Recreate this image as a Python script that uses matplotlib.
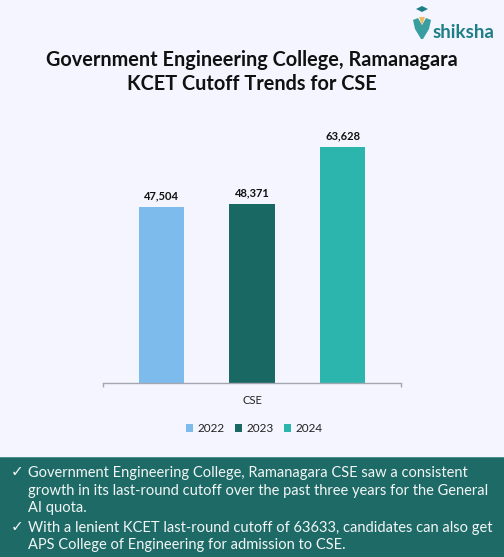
import matplotlib
matplotlib.use("Agg")
import matplotlib.pyplot as plt
from matplotlib.patches import Polygon, Rectangle

years = ["2022", "2023", "2024"]
cutoffs = [47504, 48371, 63628]
bar_colors = ["#7CBBEC", "#196864", "#2CB5AC"]
bar_offsets = [-1, 0, 1]
category = "CSE"
title_lines = "Government Engineering College, Ramanagara\nKCET Cutoff Trends for CSE"
note_one = ["Government Engineering College, Ramanagara CSE saw a consistent",
            "growth in its last-round cutoff over the past three years for the General",
            "AI quota."]
note_two = ["With a lenient KCET last-round cutoff of 63633, candidates can also get",
            "APS College of Engineering for admission to CSE."]

W, H = 504, 557
BG = "#F4F5FF"
TEAL = "#1D6A66"
plt.rcParams["font.family"] = ["Lato", "DejaVu Sans"]


def fx(px):
    return px / W


def fy(py):
    return 1 - py / H


fig = plt.figure(figsize=(W / 100, H / 100), dpi=100, facecolor=BG)

# chart area, baseline at y=383
ax = fig.add_axes([fx(103), fy(383), fx(298), (383 - 100) / H], facecolor="none")
for off, val, col, year in zip(bar_offsets, cutoffs, bar_colors, years):
    ax.bar(off, val, width=0.5, color=col, label=year)
    ax.annotate(f"{val:,}", (off, val), xytext=(0, 4), textcoords="offset points",
                ha="center", va="bottom", fontsize=8, fontweight="bold", color="#111111")
ax.set_xlim(-1.646, 1.646)
ax.set_ylim(0, 63628 * 283 / 236)
ax.set_yticks([])
ax.set_xticks([-1.646, 1.646], labels=["", ""])
ax.tick_params(axis="x", length=3, width=1, color="#A5A7B0")
for side in ["top", "left", "right"]:
    ax.spines[side].set_visible(False)
ax.spines["bottom"].set_color("#A5A7B0")
ax.spines["bottom"].set_linewidth(1)
fig.text(fx(252), fy(401), category, ha="center", va="center", fontsize=8, color="#222222")

ax.legend(loc="center", bbox_to_anchor=(0.507, (383 - 428.5) / 283), ncol=3, frameon=False,
          fontsize=8.5, handlelength=0.6, handleheight=0.6, handletextpad=0.4,
          columnspacing=0.85, labelcolor="#222222")

fig.text(fx(252), fy(72), title_lines, ha="center", va="center", fontsize=14.3,
         fontweight="bold", color="#111111", linespacing=1.3)

# bottom note panel
fig.add_artist(Rectangle((0, 0), 1, fy(458), transform=fig.transFigure, color=TEAL, lw=0))
fig.add_artist(Rectangle((0, fy(458)), 1, 1 / H, transform=fig.transFigure,
                         color="#4F8F96", lw=0))
for py, line in zip([473, 490.5, 508], note_one):
    fig.text(fx(28), fy(py), line, va="center", fontsize=10.5, color="#F2F6F6")
for py, line in zip([528, 545], note_two):
    fig.text(fx(28), fy(py), line, va="center", fontsize=10.5, color="#F2F6F6")
for py in [472, 527]:
    fig.text(fx(17), fy(py), "\u2713", ha="center", va="center", fontsize=11,
             color="#F2F6F6", family="DejaVu Sans")

# logo
fig.text(fx(433), fy(33), "shiksha", ha="left", va="center", fontsize=13.5,
         fontweight="bold", color="#1F7F86")
cup = Polygon([(fx(413), fy(20)), (fx(418), fy(18)), (fx(422), fy(25)), (fx(426), fy(18)),
               (fx(431), fy(20)), (fx(429), fy(29)), (fx(423), fy(39)), (fx(421), fy(39)),
               (fx(415), fy(29))], closed=True, transform=fig.transFigure,
              color="#3A9EA0", lw=0)
fig.add_artist(cup)
fig.add_artist(Polygon([(fx(419), fy(17)), (fx(422), fy(25)), (fx(425), fy(17))], closed=True,
                       transform=fig.transFigure, color="#F0B95C", lw=0))
fig.add_artist(Polygon([(fx(416), fy(9)), (fx(422), fy(6)), (fx(428), fy(9)), (fx(422), fy(12))],
                       closed=True, transform=fig.transFigure, color="#1F7F86", lw=0))

fig.savefig("out.png", dpi=100, facecolor=BG)
